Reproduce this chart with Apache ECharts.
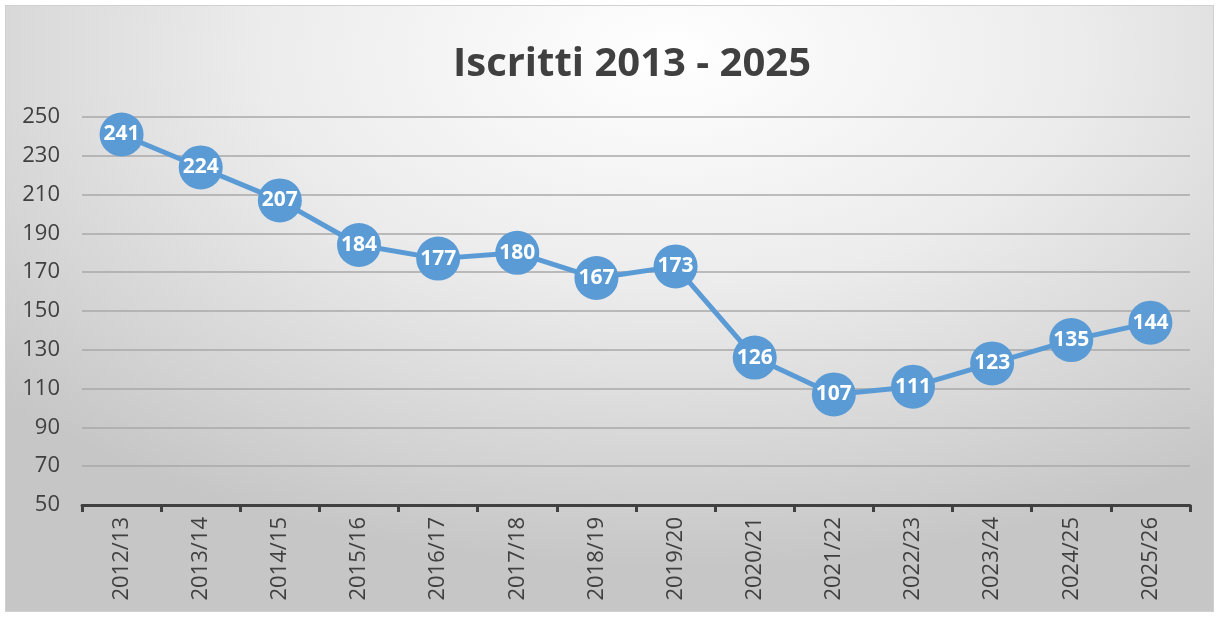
<!DOCTYPE html>
<html>
<head>
<meta charset="utf-8">
<script src="https://cdn.jsdelivr.net/npm/echarts@6/dist/echarts.min.js"></script>
<style>
  html, body { margin: 0; padding: 0; background: #fff; }
  #frame {
    position: absolute; left: 5px; top: 5px; width: 1207px; height: 605px;
    border: 1px solid #d0d0d0;
    background: radial-gradient(ellipse 75% 85% at 55% 8%, #ffffff 0%, #ececec 45%, #d4d4d4 80%, #c6c6c6 100%);
  }
  #chart { position: absolute; left: 0; top: 0; width: 1219px; height: 617px; }
</style>
</head>
<body>
<div id="frame"></div>
<div id="chart"></div>
<script>
  // dati
  var anni = ["2012/13", "2013/14", "2014/15", "2015/16", "2016/17", "2017/18", "2018/19",
              "2019/20", "2020/21", "2021/22", "2022/23", "2023/24", "2024/25", "2025/26"];
  var iscritti = [241, 224, 207, 184, 177, 180, 167, 173, 126, 107, 111, 123, 135, 144];

  var myChart = echarts.init(document.getElementById("chart"), null, { renderer: "canvas" });
  var option = {
    backgroundColor: "transparent",
    animation: false,
    title: {
      text: "Iscritti 2013 - 2025",
      left: 448,
      top: 40,
      textStyle: {
        fontFamily: "Open Sans",
        fontWeight: "bold",
        fontSize: 40,
        color: "#404040"
      }
    },
    grid: { left: 82, right: 29, top: 117, bottom: 112, containLabel: false },
    xAxis: {
      type: "category",
      boundaryGap: true,
      data: anni,
      axisLine: { lineStyle: { color: "#404040", width: 3 } },
      axisTick: { show: true, length: 7, lineStyle: { color: "#404040", width: 3 } },
      axisLabel: {
        rotate: 90,
        margin: 12,
        fontFamily: "Open Sans",
        fontSize: 22,
        color: "#404040"
      }
    },
    yAxis: {
      type: "value",
      min: 50,
      max: 250,
      interval: 20,
      axisLine: { show: false },
      axisTick: { show: false },
      axisLabel: {
        margin: 22,
        fontFamily: "Open Sans",
        fontSize: 22,
        color: "#404040"
      },
      splitLine: { lineStyle: { color: "#a9a9a9", width: 1.5 } }
    },
    series: [
      {
        name: "Iscritti",
        type: "line",
        data: iscritti,
        symbol: "circle",
        symbolSize: 44,
        lineStyle: { color: "#5b9bd5", width: 5 },
        itemStyle: { color: "#5b9bd5", borderWidth: 0 },
        label: {
          show: true,
          position: "inside",
          fontFamily: "Open Sans",
          fontWeight: "bold",
          fontSize: 21,
          color: "#ffffff"
        },
        z: 3
      }
    ]
  };
  myChart.setOption(option);
</script>
</body>
</html>
